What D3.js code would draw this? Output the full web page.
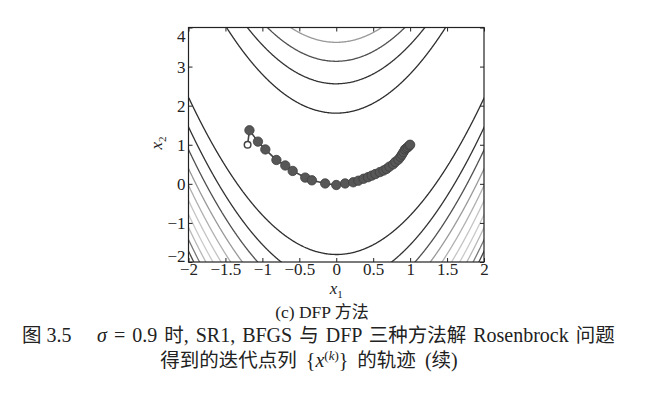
<!DOCTYPE html>
<html>
<head>
<meta charset="utf-8">
<script src="https://cdn.jsdelivr.net/npm/d3@7"></script>
<style>
  body { margin: 0; background: #fff; }
  svg { display: block; }
  .tick text { font-family: "Liberation Serif", serif; font-size: 17px; fill: #222; }
  .cap { font-family: "Liberation Serif", "Noto Sans CJK SC", serif; fill: #222; }
</style>
</head>
<body>
<svg width="645" height="395"></svg>
<script>
// contour levels of the Rosenbrock function and the grey of each line
var levels = [328, 656, 984, 1312, 1640, 1968, 2297, 2625, 2953, 3281];
var levelColors = ["#2e2e2e", "#333", "#505050", "#999", "#b0b0b0", "#c4c4c4", "#cacaca", "#b8b8b8", "#7a7a7a", "#444"];

// DFP iterates x^(k)
var iterX1 = [-1.2, -1.175, -1.06, -0.96, -0.81, -0.69, -0.59, -0.42, -0.33, -0.15, 0.0, 0.12, 0.23, 0.30, 0.37, 0.43, 0.48, 0.53, 0.59, 0.64, 0.68, 0.72, 0.77, 0.80, 0.84, 0.87, 0.89, 0.91, 0.93, 0.95, 0.97, 0.99, 1.0];
var iterX2 = [1.0, 1.37, 1.08, 0.88, 0.61, 0.47, 0.33, 0.16, 0.09, 0.01, -0.03, 0.01, 0.04, 0.08, 0.13, 0.17, 0.21, 0.25, 0.30, 0.34, 0.38, 0.44, 0.50, 0.56, 0.62, 0.69, 0.75, 0.81, 0.88, 0.91, 0.94, 0.98, 1.0];

var xTicks = [-2, -1.5, -1, -0.5, 0, 0.5, 1, 1.5, 2];
var yTicks = [-2, -1, 0, 1, 2, 3, 4];

var svg = d3.select("svg");

var x = d3.scaleLinear().domain([-2, 2]).range([188.5, 484]);
var y = d3.scaleLinear().domain([-2, 4]).range([262, 27.5]);

function rosenbrock(a, b) {
    return 100 * (b - a * a) * (b - a * a) + (1 - a) * (1 - a);
}

// sample the function on a grid a bit wider than the plot
var gx0 = -2.1, gx1 = 2.1, gy0 = -2.1, gy1 = 4.1;
var nx = 281, ny = 411;
var sx = (gx1 - gx0) / (nx - 1), sy = (gy1 - gy0) / (ny - 1);
var values = new Array(nx * ny);
for (var j = 0; j < ny; j++) {
    for (var i = 0; i < nx; i++) {
        values[j * nx + i] = rosenbrock(gx0 + i * sx, gy0 + j * sy);
    }
}

var contours = d3.contours().size([nx, ny]).thresholds(levels)(values);

var toPlot = d3.geoTransform({
    point: function(px, py) {
        this.stream.point(x(gx0 + (px - 0.5) * sx), y(gy0 + (py - 0.5) * sy));
    }
});
var path = d3.geoPath(toPlot);

svg.append("clipPath").attr("id", "plotclip")
    .append("rect")
    .attr("x", x(-2)).attr("y", y(4))
    .attr("width", x(2) - x(-2)).attr("height", y(-2) - y(4));

svg.append("g")
    .attr("clip-path", "url(#plotclip)")
    .selectAll("path")
    .data(contours)
    .enter().append("path")
    .attr("d", path)
    .attr("fill", "none")
    .attr("stroke", function(d, k) { return levelColors[k]; })
    .attr("stroke-width", 1.3);

// trajectory
var pts = iterX1.map(function(v, k) { return [v, iterX2[k]]; });

svg.append("path")
    .datum(pts)
    .attr("d", d3.line().x(function(d) { return x(d[0]); }).y(function(d) { return y(d[1]); }))
    .attr("fill", "none")
    .attr("stroke", "#444")
    .attr("stroke-width", 1.6);

svg.selectAll(".dot")
    .data(pts.slice(1))
    .enter().append("circle")
    .attr("class", "dot")
    .attr("cx", function(d) { return x(d[0]); })
    .attr("cy", function(d) { return y(d[1]); })
    .attr("r", 4.7)
    .attr("fill", "#575757")
    .attr("stroke", "#3f3f3f")
    .attr("stroke-width", 0.8);

svg.append("circle")
    .attr("cx", x(pts[0][0]))
    .attr("cy", y(pts[0][1]))
    .attr("r", 3.3)
    .attr("fill", "#fff")
    .attr("stroke", "#444")
    .attr("stroke-width", 1.5);

// axes with inward ticks
var fmt = d3.format("~g");

svg.append("g")
    .attr("transform", "translate(0," + y(-2) + ")")
    .call(d3.axisBottom(x).tickValues(xTicks).tickFormat(fmt).tickSizeInner(-4).tickSizeOuter(0).tickPadding(1));
svg.append("g")
    .attr("transform", "translate(0," + y(4) + ")")
    .call(d3.axisTop(x).tickValues(xTicks).tickFormat("").tickSizeInner(-4).tickSizeOuter(0));
svg.append("g")
    .attr("transform", "translate(" + x(-2) + ",0)")
    .call(d3.axisLeft(y).tickValues(yTicks).tickFormat(fmt).tickSizeInner(-4).tickSizeOuter(0).tickPadding(3));
svg.append("g")
    .attr("transform", "translate(" + x(2) + ",0)")
    .call(d3.axisRight(y).tickValues(yTicks).tickFormat("").tickSizeInner(-4).tickSizeOuter(0));

svg.selectAll(".domain").remove();
svg.selectAll(".tick line").attr("stroke", "#222");

// top and bottom y labels sit inside the box
svg.selectAll(".tick text")
    .filter(function(d) { return d === 4; })
    .attr("dy", "0.8em");
svg.selectAll(".tick text")
    .filter(function(d) { return d === -2 && this.getAttribute("x") < 0; })
    .attr("dy", "-0.02em");

svg.append("rect")
    .attr("x", x(-2)).attr("y", y(4))
    .attr("width", x(2) - x(-2)).attr("height", y(-2) - y(4))
    .attr("fill", "none")
    .attr("stroke", "#222")
    .attr("stroke-width", 1.2);

// axis titles
var xl = svg.append("text").attr("class", "cap")
    .attr("x", x(0)).attr("y", 294)
    .attr("text-anchor", "middle")
    .style("font-size", "17px");
xl.append("tspan").attr("font-style", "italic").text("x");
xl.append("tspan").attr("dy", 4).style("font-size", "11px").text("1");

var yl = svg.append("text").attr("class", "cap")
    .attr("transform", "translate(162,143) rotate(-90)")
    .attr("text-anchor", "middle")
    .style("font-size", "17px");
yl.append("tspan").attr("font-style", "italic").text("x");
yl.append("tspan").attr("dy", 4).style("font-size", "11px").text("2");

// captions: latin and CJK runs get their own sizes
function addRuns(txt, str, latin, cjk) {
    var parts = str.split(/([\u3000-\u9fff]+)/);
    parts.forEach(function(p) {
        if (p === "") return;
        var isCjk = /[\u3000-\u9fff]/.test(p);
        txt.append("tspan")
            .style("font-size", (isCjk ? cjk : latin) + "px")
            .text(p);
    });
}

var c0 = svg.append("text").attr("class", "cap")
    .attr("x", 322).attr("y", 318)
    .attr("text-anchor", "middle");
addRuns(c0, "(c) DFP 方法", 17.5, 17);

var c1 = svg.append("text").attr("class", "cap")
    .attr("x", 22).attr("y", 342);
addRuns(c1, "图 3.5", 20, 19.5);

var l1 = svg.append("text").attr("class", "cap")
    .attr("x", 97).attr("y", 342)
    .style("word-spacing", "2px");
l1.append("tspan").attr("font-style", "italic").style("font-size", "20px").text("σ");
addRuns(l1, " = 0.9 时, SR1, BFGS 与 DFP 三种方法解 Rosenbrock 问题", 20, 19.5);

var l2 = svg.append("text").attr("class", "cap")
    .attr("x", 309).attr("y", 367)
    .attr("text-anchor", "middle")
    .style("word-spacing", "4px");
addRuns(l2, "得到的迭代点列 {", 20, 19.5);
l2.append("tspan").attr("font-style", "italic").style("font-size", "20px").text("x");
l2.append("tspan").attr("dy", -7).style("font-size", "13px").text("(");
l2.append("tspan").style("font-size", "13px").attr("font-style", "italic").text("k");
l2.append("tspan").style("font-size", "13px").text(")");
l2.append("tspan").attr("dy", 7).style("font-size", "20px").text("}");
addRuns(l2, " 的轨迹 (续)", 20, 19.5);
</script>
</body>
</html>
